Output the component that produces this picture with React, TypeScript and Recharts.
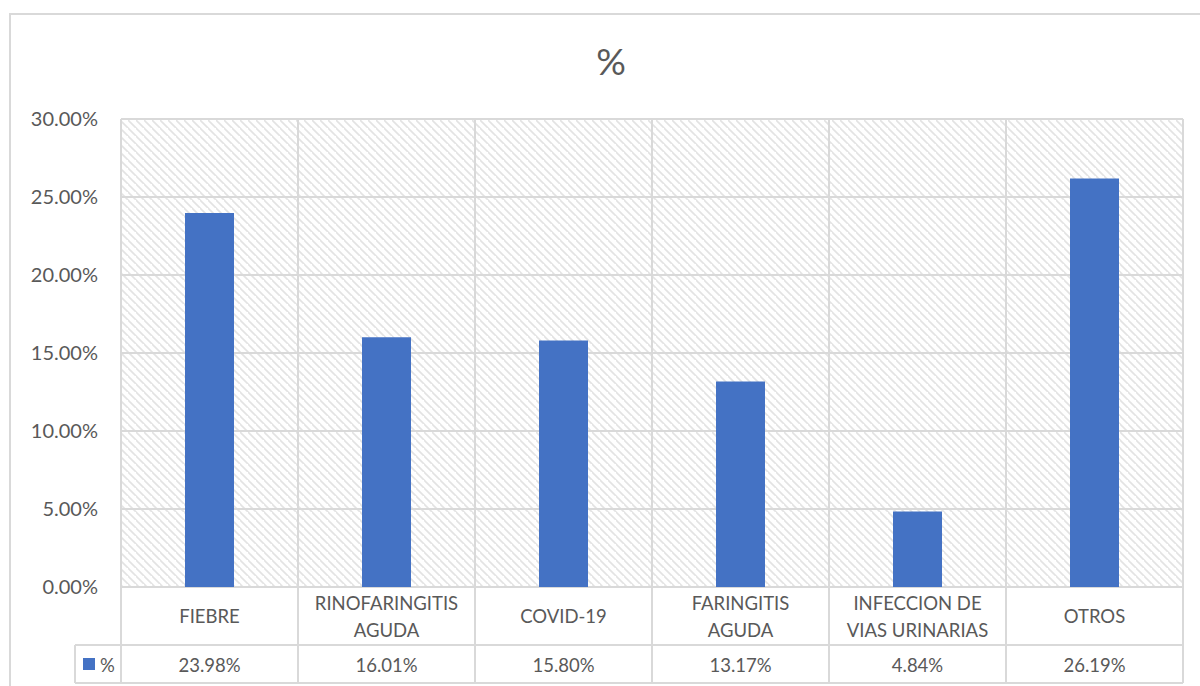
import React from 'react';
import { BarChart, Bar, XAxis, YAxis, CartesianGrid } from 'recharts';

const categories: string[] = [
  'FIEBRE',
  'RINOFARINGITIS\nAGUDA',
  'COVID-19',
  'FARINGITIS\nAGUDA',
  'INFECCION DE\nVIAS URINARIAS',
  'OTROS',
];
const values: number[] = [23.98, 16.01, 15.8, 13.17, 4.84, 26.19];
const yTicks: number[] = [0, 5, 10, 15, 20, 25, 30];
const seriesName = '%';
const chartTitle = '%';

const data = categories.map((c, i) => ({ name: c, value: values[i] }));

const W = 1200;
const H = 686;
const PLOT_TOP = 119;
const AXIS_H = 99;
const PLOT_BOTTOM = H - AXIS_H;
const ROW_SPLIT = 645;
const TABLE_BOTTOM = 683;
const LEGEND_LEFT = 75;
const GRID = '#d9d9d9';
const TEXT = '#595959';
const BAR = '#4472C4';
const FONT = 'Lato, "Open Sans", sans-serif';

const fmt = (v: number) => v.toFixed(2) + '%';

const TableTick = (props: any) => {
  const { x, payload, index } = props;
  const half = payload && payload.offset ? payload.offset : 88.5;
  const lines: string[] = String(payload.value).split('\n');
  const left = x - half;
  const right = x + half;
  const catMid = (PLOT_BOTTOM + ROW_SPLIT) / 2;
  const lh = 27;
  const startY = catMid - ((lines.length - 1) * lh) / 2;
  return (
    <g>
      {lines.map((l, i) => (
        <text
          key={i}
          x={x}
          y={startY + i * lh}
          textAnchor="middle"
          dominantBaseline="central"
          fill={TEXT}
          fontSize={18.5}
          fontFamily={FONT}
        >
          {l}
        </text>
      ))}
      <text
        x={x}
        y={(ROW_SPLIT + TABLE_BOTTOM) / 2 + 1}
        textAnchor="middle"
        dominantBaseline="central"
        fill={TEXT}
        fontSize={18.5}
        fontFamily={FONT}
      >
        {fmt(values[index])}
      </text>
      <line x1={right} x2={right} y1={PLOT_TOP} y2={TABLE_BOTTOM} stroke={GRID} strokeWidth={2} />
      <line x1={left} x2={right} y1={ROW_SPLIT} y2={ROW_SPLIT} stroke={GRID} strokeWidth={2} />
      <line x1={left} x2={right} y1={TABLE_BOTTOM} y2={TABLE_BOTTOM} stroke={GRID} strokeWidth={2} />
      {index === 0 && (
        <g>
          <line x1={left} x2={left} y1={PLOT_TOP} y2={TABLE_BOTTOM} stroke={GRID} strokeWidth={2} />
          <line x1={LEGEND_LEFT} x2={left} y1={ROW_SPLIT} y2={ROW_SPLIT} stroke={GRID} strokeWidth={2} />
          <line x1={LEGEND_LEFT} x2={left} y1={TABLE_BOTTOM} y2={TABLE_BOTTOM} stroke={GRID} strokeWidth={2} />
          <line x1={LEGEND_LEFT} x2={LEGEND_LEFT} y1={ROW_SPLIT} y2={TABLE_BOTTOM} stroke={GRID} strokeWidth={2} />
          <rect x={LEGEND_LEFT + 8} y={(ROW_SPLIT + TABLE_BOTTOM) / 2 - 6} width={12} height={12} fill={BAR} />
          <text
            x={LEGEND_LEFT + 25}
            y={(ROW_SPLIT + TABLE_BOTTOM) / 2 + 1}
            dominantBaseline="central"
            fill={TEXT}
            fontSize={18.5}
            fontFamily={FONT}
          >
            {seriesName}
          </text>
        </g>
      )}
    </g>
  );
};

export default function App() {
  return (
    <div style={{ position: 'absolute', left: 0, top: 0, width: W, height: H, background: '#fff', overflow: 'hidden' }}>
      <div
        style={{
          position: 'absolute',
          left: 9,
          top: 13,
          width: W,
          height: H,
          borderLeft: `2px solid ${GRID}`,
          borderTop: `2px solid ${GRID}`,
        }}
      />
      <div
        style={{
          position: 'absolute',
          left: 0,
          width: 1222,
          top: 38,
          textAlign: 'center',
          fontFamily: FONT,
          fontSize: 37,
          color: TEXT,
          lineHeight: '46px',
        }}
      >
        {chartTitle}
      </div>
      <div style={{ position: 'absolute', left: 0, top: 0 }}>
        <BarChart
          width={W}
          height={H}
          data={data}
          margin={{ top: PLOT_TOP, right: 17, bottom: 0, left: 0 }}
          barSize={49}
        >
          <defs>
            <pattern id="hatch" patternUnits="userSpaceOnUse" width={8} height={8}>
              <rect width={8} height={8} fill="#ffffff" />
              <path d="M-2,-2 L10,10 M-6,2 L2,10 M6,-6 L14,2" stroke="#e3e3e3" strokeWidth={1.6} />
            </pattern>
          </defs>
          <CartesianGrid
            vertical={false}
            stroke={GRID}
            strokeWidth={2}
            fill="url(#hatch)"
            fillOpacity={1}
          />
          <XAxis
            dataKey="name"
            height={AXIS_H}
            axisLine={false}
            tickLine={false}
            interval={0}
            tick={<TableTick />}
          />
          <YAxis
            width={121}
            domain={[0, 30]}
            ticks={yTicks}
            tickFormatter={fmt}
            axisLine={false}
            tickLine={false}
            tickSize={0}
            tickMargin={23}
            tick={{ fill: TEXT, fontSize: 20, fontFamily: FONT }}
          />
          <Bar dataKey="value" name={seriesName} fill={BAR} isAnimationActive={false} />
        </BarChart>
      </div>
    </div>
  );
}
